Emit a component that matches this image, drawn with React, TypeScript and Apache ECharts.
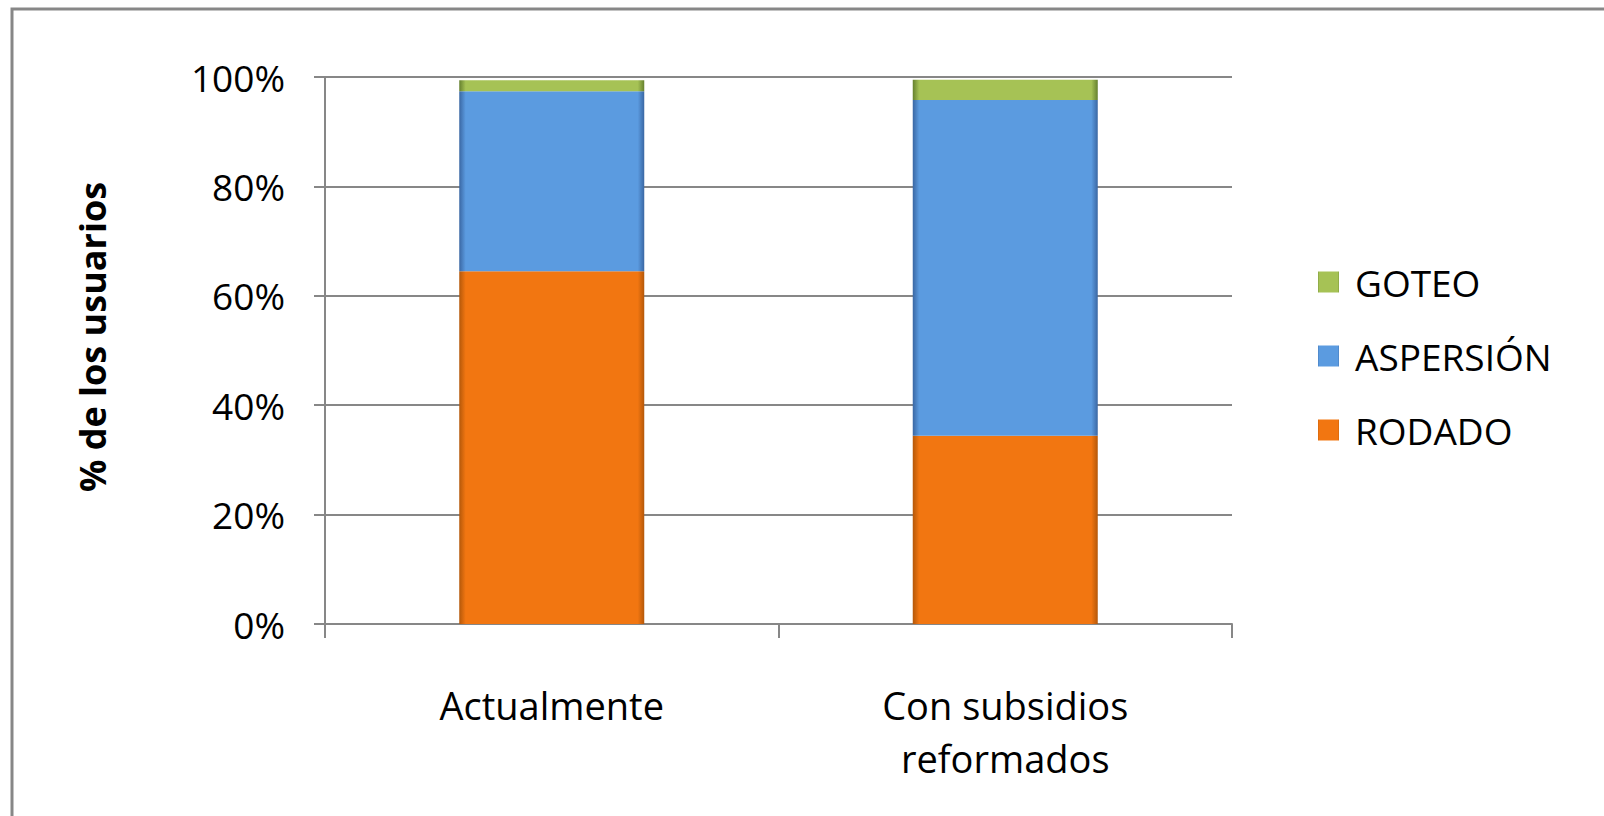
import React, { useEffect, useRef } from "react";
import * as echarts from "echarts";

const categories = ["Actualmente", "Con subsidios\nreformados"];
const rodado = [64.5, 34.4];
const aspersion = [32.9, 61.4];
const goteo = [2.0, 3.7];
const yTicks = [0, 20, 40, 60, 80, 100];
const legendOrder = ["GOTEO", "ASPERSIÓN", "RODADO"];

const FONT = "Open Sans";
const GRAY = "#878787";

function bevel(main: string, dark: string) {
  return new echarts.graphic.LinearGradient(1, 0, 0, 0, [
    { offset: 0, color: dark },
    { offset: 0.035, color: main },
    { offset: 0.965, color: main },
    { offset: 1, color: dark },
  ]);
}

export default function App() {
  const ref = useRef<HTMLDivElement>(null);
  useEffect(() => {
    if (!ref.current) return;
    const chart = echarts.init(ref.current, undefined, { renderer: "svg" });
    const barW = 185;
    chart.setOption({
      animation: false,
      backgroundColor: "#ffffff",
      textStyle: { fontFamily: FONT },
      grid: { left: 325, right: 372, top: 77, bottom: 192, containLabel: false },
      legend: {
        orient: "vertical",
        left: 1313,
        top: 257,
        data: legendOrder,
        icon: "rect",
        itemWidth: 21,
        itemHeight: 21,
        itemGap: 34,
        textStyle: {
          fontFamily: FONT,
          fontSize: 37,
          color: "#000",
          lineHeight: 40,
          padding: [0, 0, 0, 11],
        },
      },
      xAxis: {
        type: "category",
        data: categories,
        axisLine: { lineStyle: { color: GRAY, width: 2 } },
        axisTick: { show: true, length: 14, lineStyle: { color: GRAY, width: 2 } },
        axisLabel: {
          fontFamily: FONT,
          fontSize: 38,
          color: "#000",
          lineHeight: 53,
          margin: 54,
        },
      },
      yAxis: {
        type: "value",
        min: yTicks[0],
        max: yTicks[yTicks.length - 1],
        interval: 20,
        axisLine: { show: true, lineStyle: { color: GRAY, width: 2 } },
        axisTick: { show: true, length: 11, lineStyle: { color: GRAY, width: 2 } },
        splitLine: { show: true, lineStyle: { color: GRAY, width: 2 } },
        axisLabel: {
          formatter: "{value}%",
          fontFamily: FONT,
          fontSize: 37,
          color: "#000",
          margin: 40,
        },
      },
      series: [
        {
          name: "RODADO",
          type: "bar",
          stack: "total",
          barWidth: barW,
          data: rodado,
          itemStyle: { color: bevel("#F27611", "#B4580A") },
        },
        {
          name: "ASPERSIÓN",
          type: "bar",
          stack: "total",
          barWidth: barW,
          data: aspersion,
          itemStyle: { color: bevel("#5B9BE0", "#3A67A3") },
        },
        {
          name: "GOTEO",
          type: "bar",
          stack: "total",
          barWidth: barW,
          data: goteo,
          itemStyle: { color: bevel("#A6C255", "#65802E") },
        },
      ],
      graphic: [
        {
          type: "rect",
          shape: { x: 12, y: 9, width: 1700, height: 900 },
          style: { fill: "none", stroke: GRAY, lineWidth: 3 },
          silent: true,
        },
        {
          type: "text",
          x: 92,
          y: 337,
          rotation: Math.PI / 2,
          style: {
            text: "% de los usuarios",
            fontFamily: FONT,
            fontWeight: "bold",
            fontSize: 36,
            fill: "#000",
            align: "center",
            verticalAlign: "middle",
          },
        },
      ],
    });
    return () => chart.dispose();
  }, []);
  return (
    <div
      ref={ref}
      style={{ position: "absolute", left: 0, top: 0, width: 1604, height: 816 }}
    />
  );
}
